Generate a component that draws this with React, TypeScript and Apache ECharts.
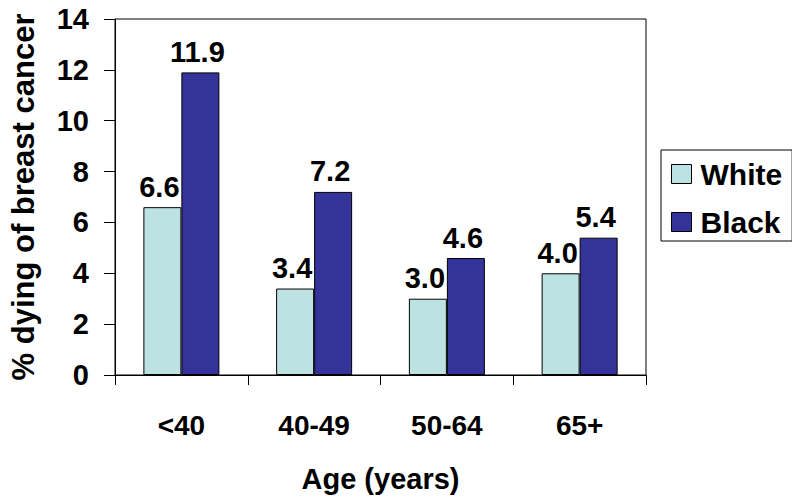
import React, { useEffect, useRef } from "react";
import * as echarts from "echarts";

const categories = ["<40", "40-49", "50-64", "65+"];
const whiteValues = [6.6, 3.4, 3.0, 4.0];
const blackValues = [11.9, 7.2, 4.6, 5.4];
const seriesNames = ["White", "Black"];
const yTicks = { min: 0, max: 14, interval: 2 };

const FONT = "'Liberation Sans', Arial, Helvetica, sans-serif";

export default function App() {
  const ref = useRef<HTMLDivElement>(null);
  useEffect(() => {
    if (!ref.current) return;
    const chart = echarts.init(ref.current, null, { renderer: "svg" });
    const labelStyle = {
      show: true,
      position: "top",
      distance: 6,
      offset: [-3, 0],
      color: "#000",
      fontFamily: FONT,
      fontWeight: "bold",
      fontSize: 29,
      formatter: (p: any) => Number(p.value).toFixed(1),
    };
    chart.setOption({
      animation: false,
      backgroundColor: "#fff",
      textStyle: { fontFamily: FONT },
      grid: {
        left: 114,
        right: 154,
        top: 19,
        bottom: 128,
        show: true,
        borderColor: "#000",
        borderWidth: 1,
        backgroundColor: "transparent",
      },
      legend: {
        orient: "vertical",
        left: 661,
        top: 150,
        data: seriesNames,
        itemWidth: 20,
        itemHeight: 19,
        itemGap: 18,
        padding: [9, 10, 4, 10],
        borderColor: "#000",
        borderWidth: 1,
        icon: "rect",
        textStyle: {
          fontFamily: FONT,
          fontWeight: "bold",
          fontSize: 30,
          color: "#000",
          padding: [0, 0, 0, 4],
        },
        itemStyle: { borderColor: "#000", borderWidth: 1 },
      },
      xAxis: {
        type: "category",
        data: categories,
        name: "Age (years)",
        nameLocation: "middle",
        nameGap: 89,
        nameTextStyle: {
          fontFamily: FONT,
          fontWeight: "bold",
          fontSize: 29,
          color: "#000",
        },
        axisLine: { lineStyle: { color: "#000", width: 1 } },
        axisTick: { show: true, length: 10, lineStyle: { color: "#000" } },
        axisLabel: {
          margin: 36,
          fontFamily: FONT,
          fontWeight: "bold",
          fontSize: 28,
          color: "#000",
        },
      },
      yAxis: {
        type: "value",
        min: yTicks.min,
        max: yTicks.max,
        interval: yTicks.interval,
        name: "% dying of breast cancer",
        nameLocation: "middle",
        nameGap: 76,
        nameTextStyle: {
          fontFamily: FONT,
          fontWeight: "bold",
          fontSize: 31,
          color: "#000",
        },
        axisLine: { show: true, lineStyle: { color: "#000", width: 1 } },
        axisTick: { show: true, length: 11, lineStyle: { color: "#000" } },
        splitLine: { show: false },
        axisLabel: {
          margin: 26,
          fontFamily: FONT,
          fontWeight: "bold",
          fontSize: 29,
          color: "#000",
        },
      },
      series: [
        {
          name: seriesNames[0],
          type: "bar",
          data: whiteValues,
          barWidth: 38,
          barGap: "0%",
          itemStyle: { color: "#BDE2E4", borderColor: "#000", borderWidth: 1 },
          label: labelStyle,
        },
        {
          name: seriesNames[1],
          type: "bar",
          data: blackValues,
          barWidth: 38,
          barGap: "0%",
          itemStyle: { color: "#333399", borderColor: "#000", borderWidth: 1 },
          label: labelStyle,
        },
      ],
    });
    return () => chart.dispose();
  }, []);
  return <div ref={ref} style={{ width: 800, height: 503, margin: -8 }} />;
}
